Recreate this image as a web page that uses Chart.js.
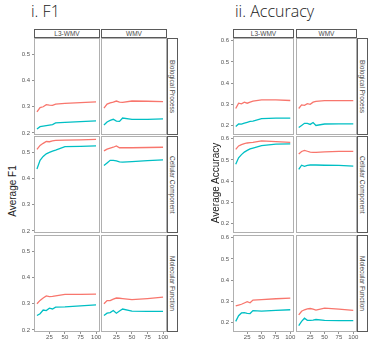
<!DOCTYPE html>
<html>
<head>
<meta charset="utf-8">
<script src="https://cdn.jsdelivr.net/npm/chart.js@4"></script>
<style>
  html, body { margin:0; padding:0; background:#fff; }
  #wrap { position:relative; width:368px; height:339px; overflow:hidden; font-family:'Liberation Sans', Arial, sans-serif; }
  canvas { position:absolute; }
  .box { position:absolute; box-sizing:border-box; pointer-events:none; }
  .panel { border:1px solid #b0b0b0; }
  .strip { border:1px solid #5a5a5a; background:#fff; font-size:6.5px; color:#4a4a4a; text-align:center; line-height:7px; }
  .rstrip { border:1px solid #5a5a5a; background:#fff; font-size:6.5px; color:#4a4a4a; writing-mode:vertical-rl; text-align:center; line-height:9px; }
  .title { position:absolute; font-family:'Open Sans', sans-serif; font-weight:300; font-size:16px; color:#222; line-height:18px; }
  .ylab { position:absolute; font-size:10px; color:#222; white-space:nowrap; transform:translate(-50%,-50%) rotate(-90deg); }
</style>
</head>
<body>
<div id="wrap"></div>
<script>
// x positions of the points (same for every panel)
const xValues = [5, 10, 15, 20, 25, 30, 35, 50, 75, 100];
const xTicks = [25, 50, 75, 100];
const f1Ticks = [0.2, 0.3, 0.4, 0.5];
const accTicks = [0.2, 0.3, 0.4, 0.5, 0.6];
const methods = ['L3-WMV', 'WMV'];
const ontologies = ['Biological Process', 'Cellular Component', 'Molecular Function'];

// i. F1
const f1BpL3Red    = [0.280, 0.297, 0.300, 0.308, 0.306, 0.305, 0.310, 0.313, 0.316, 0.319];
const f1BpL3Teal   = [0.215, 0.224, 0.226, 0.228, 0.230, 0.232, 0.238, 0.240, 0.243, 0.246];
const f1BpWmvRed   = [0.295, 0.310, 0.315, 0.318, 0.322, 0.318, 0.317, 0.322, 0.321, 0.320];
const f1BpWmvTeal  = [0.230, 0.242, 0.248, 0.252, 0.245, 0.244, 0.257, 0.252, 0.252, 0.254];
const f1CcL3Red    = [0.512, 0.527, 0.535, 0.542, 0.541, 0.544, 0.546, 0.547, 0.548, 0.550];
const f1CcL3Teal   = [0.437, 0.470, 0.485, 0.495, 0.500, 0.505, 0.509, 0.522, 0.523, 0.525];
const f1CcWmvRed   = [0.506, 0.513, 0.517, 0.520, 0.525, 0.518, 0.518, 0.518, 0.519, 0.520];
const f1CcWmvTeal  = [0.450, 0.460, 0.470, 0.470, 0.468, 0.464, 0.463, 0.465, 0.469, 0.472];
const f1MfL3Red    = [0.300, 0.313, 0.322, 0.330, 0.327, 0.328, 0.330, 0.336, 0.336, 0.337];
const f1MfL3Teal   = [0.255, 0.262, 0.276, 0.274, 0.283, 0.280, 0.287, 0.288, 0.292, 0.296];
const f1MfWmvRed   = [0.300, 0.312, 0.312, 0.318, 0.322, 0.321, 0.320, 0.316, 0.320, 0.325];
const f1MfWmvTeal  = [0.255, 0.264, 0.266, 0.274, 0.264, 0.272, 0.280, 0.272, 0.271, 0.271];

// ii. Accuracy
const accBpL3Red   = [0.280, 0.305, 0.302, 0.310, 0.305, 0.310, 0.315, 0.321, 0.321, 0.318];
const accBpL3Teal  = [0.195, 0.207, 0.206, 0.211, 0.215, 0.219, 0.221, 0.232, 0.235, 0.235];
const accBpWmvRed  = [0.280, 0.297, 0.295, 0.303, 0.300, 0.310, 0.314, 0.317, 0.317, 0.317];
const accBpWmvTeal = [0.190, 0.200, 0.210, 0.210, 0.205, 0.214, 0.200, 0.207, 0.208, 0.208];
const accCcL3Red   = [0.550, 0.566, 0.572, 0.577, 0.580, 0.582, 0.583, 0.590, 0.586, 0.583];
const accCcL3Teal  = [0.480, 0.510, 0.525, 0.537, 0.545, 0.552, 0.556, 0.568, 0.575, 0.576];
const accCcWmvRed  = [0.528, 0.540, 0.545, 0.541, 0.537, 0.536, 0.536, 0.538, 0.540, 0.540];
const accCcWmvTeal = [0.455, 0.475, 0.470, 0.474, 0.476, 0.476, 0.476, 0.475, 0.474, 0.471];
const accMfL3Red   = [0.278, 0.282, 0.286, 0.292, 0.298, 0.293, 0.306, 0.308, 0.312, 0.315];
const accMfL3Teal  = [0.205, 0.232, 0.245, 0.246, 0.243, 0.242, 0.256, 0.254, 0.257, 0.260];
const accMfWmvRed  = [0.236, 0.253, 0.260, 0.264, 0.266, 0.263, 0.258, 0.268, 0.263, 0.257];
const accMfWmvTeal = [0.185, 0.205, 0.220, 0.210, 0.210, 0.211, 0.214, 0.210, 0.209, 0.209];

const RED = '#F8766D', TEAL = '#00BFC4';
const FONT = "'Liberation Sans', Arial, sans-serif";

// layout of the two facet grids
const rowTop = [38, 136, 235];
const rowH = 97;
const plots = [
  { title: 'i. F1', titleX: 31, ylab: 'Average F1', ylabX: 12, ylabY: 191,
    colLeft: [34, 101], colW: 65, stripX: 167, yMin: 0.192, yMax: 0.563, ticks: f1Ticks,
    series: [
      [[f1BpL3Red, f1BpL3Teal], [f1BpWmvRed, f1BpWmvTeal]],
      [[f1CcL3Red, f1CcL3Teal], [f1CcWmvRed, f1CcWmvTeal]],
      [[f1MfL3Red, f1MfL3Teal], [f1MfWmvRed, f1MfWmvTeal]]
    ] },
  { title: 'ii. Accuracy', titleX: 235, ylab: 'Average Accuracy', ylabX: 215, ylabY: 183,
    colLeft: [233, 296], colW: 60, stripX: 357, yMin: 0.155, yMax: 0.613, ticks: accTicks,
    series: [
      [[accBpL3Red, accBpL3Teal], [accBpWmvRed, accBpWmvTeal]],
      [[accCcL3Red, accCcL3Teal], [accCcWmvRed, accCcWmvTeal]],
      [[accMfL3Red, accMfL3Teal], [accMfWmvRed, accMfWmvTeal]]
    ] }
];

const wrap = document.getElementById('wrap');
function addDiv(cls, css, text) {
  const d = document.createElement('div');
  d.className = cls;
  Object.assign(d.style, css);
  if (text) d.textContent = text;
  wrap.appendChild(d);
  return d;
}
const pts = arr => xValues.map((x, i) => ({ x: x, y: arr[i] }));

function makePanel(p, r, c) {
  const isLeft = c === 0, isBottom = r === 2;
  const axW = isLeft ? 16 : 0, axH = isBottom ? 7 : 0;
  const padT = isLeft ? 4 : 0, padR = isBottom ? 6 : 0;
  const left = p.colLeft[c] - axW, top = rowTop[r] - padT;
  const w = axW + p.colW + padR, h = padT + rowH + axH;

  const cv = document.createElement('canvas');
  cv.width = w; cv.height = h;
  cv.style.left = left + 'px'; cv.style.top = top + 'px';
  cv.style.width = w + 'px'; cv.style.height = h + 'px';
  wrap.appendChild(cv);

  const [red, teal] = p.series[r][c];
  const tickGrid = { display: true, drawOnChartArea: false, drawTicks: true, tickLength: 2, color: '#777', lineWidth: 0.8 };
  const xScale = {
    type: 'linear', min: 0.25, max: 104.75, display: isBottom,
    grid: tickGrid, border: { display: false },
    ticks: { font: { size: 6, family: FONT }, color: '#555', padding: 0, autoSkip: false, maxRotation: 0 },
    afterBuildTicks: s => { s.ticks = xTicks.map(v => ({ value: v })); }
  };
  if (isBottom) xScale.afterFit = s => { s.height = axH; s.paddingLeft = 0; s.paddingRight = 0; };
  const yScale = {
    type: 'linear', min: p.yMin, max: p.yMax, display: isLeft,
    grid: tickGrid, border: { display: false },
    ticks: { font: { size: 6, family: FONT }, color: '#555', padding: 2, callback: v => v.toFixed(1) },
    afterBuildTicks: s => { s.ticks = p.ticks.map(v => ({ value: v })); }
  };
  if (isLeft) yScale.afterFit = s => { s.width = axW; s.paddingTop = 0; s.paddingBottom = 0; };

  new Chart(cv, {
    type: 'line',
    data: { datasets: [
      { data: pts(red), borderColor: RED, borderWidth: 1.3, pointRadius: 0, tension: 0 },
      { data: pts(teal), borderColor: TEAL, borderWidth: 1.3, pointRadius: 0, tension: 0 }
    ] },
    options: {
      responsive: false, animation: false, events: [],
      plugins: { legend: { display: false }, tooltip: { enabled: false } },
      layout: { padding: { top: padT, right: padR, left: 0, bottom: 0 } },
      scales: { x: xScale, y: yScale }
    }
  });

  addDiv('box panel', { left: p.colLeft[c] + 'px', top: rowTop[r] + 'px', width: (p.colW + 1) + 'px', height: rowH + 'px' });
}

plots.forEach(p => {
  addDiv('title', { left: p.titleX + 'px', top: '2px' }, p.title);
  addDiv('ylab', { left: p.ylabX + 'px', top: p.ylabY + 'px' }, p.ylab);
  methods.forEach((m, c) => {
    addDiv('box strip', { left: p.colLeft[c] + 'px', top: '29px', width: (p.colW + 1) + 'px', height: '9px' }, m);
  });
  ontologies.forEach((o, r) => {
    addDiv('box rstrip', { left: p.stripX + 'px', top: rowTop[r] + 'px', width: '11px', height: rowH + 'px' }, o);
    for (let c = 0; c < 2; c++) makePanel(p, r, c);
  });
});
</script>
</body>
</html>
